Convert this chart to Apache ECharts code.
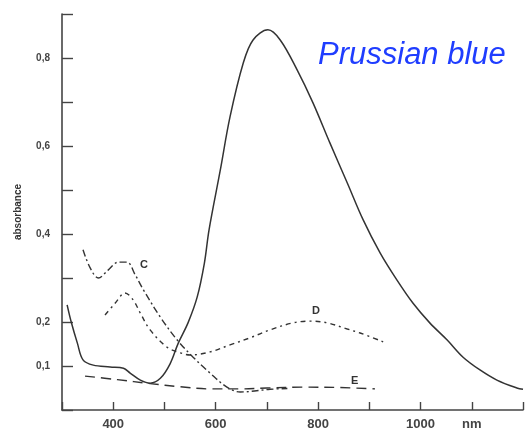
<!DOCTYPE html>
<html>
<head>
<meta charset="utf-8">
<script src="https://cdn.jsdelivr.net/npm/echarts@6/dist/echarts.min.js"></script>
<style>html,body{margin:0;padding:0;background:#fff;}#c{width:530px;height:434px;}</style>
</head>
<body>
<div id="c"></div>
<script>
// Prussian blue (main) curve
var pbX = [310, 318, 330, 341, 361, 394, 420, 433, 453, 472, 492, 511, 527, 546, 564, 578, 587, 609, 628, 654, 673, 702, 726, 759, 790, 823, 857, 888, 921, 954, 985, 1018, 1052, 1083, 1116, 1149, 1188, 1200];
var pbY = [0.239, 0.200, 0.152, 0.114, 0.102, 0.098, 0.095, 0.084, 0.068, 0.061, 0.072, 0.105, 0.152, 0.198, 0.257, 0.334, 0.409, 0.545, 0.666, 0.789, 0.841, 0.864, 0.841, 0.773, 0.698, 0.607, 0.516, 0.432, 0.357, 0.295, 0.243, 0.198, 0.159, 0.120, 0.091, 0.068, 0.050, 0.047];
// Curve C
var cX = [341, 355, 371, 390, 410, 427, 443, 459, 492, 525, 556, 589, 622, 648, 706, 740];
var cY = [0.364, 0.323, 0.300, 0.318, 0.336, 0.336, 0.307, 0.273, 0.211, 0.159, 0.120, 0.084, 0.052, 0.041, 0.047, 0.049];
// Curve D
var dX = [384, 404, 423, 439, 453, 472, 505, 531, 550, 589, 628, 667, 706, 751, 784, 818, 857, 882, 927];
var dY = [0.216, 0.243, 0.266, 0.250, 0.220, 0.182, 0.143, 0.130, 0.125, 0.132, 0.148, 0.164, 0.182, 0.198, 0.202, 0.198, 0.184, 0.175, 0.155];
// Curve E
var eX = [345, 408, 472, 530, 589, 650, 700, 771, 843, 911];
var eY = [0.077, 0.069, 0.060, 0.053, 0.048, 0.048, 0.050, 0.052, 0.051, 0.048];
// tick labels
var xTickLabels = [400, 600, 800, 1000];
var xUnitLabel = 'nm';
var yTickLabels = [0.1, 0.2, 0.4, 0.6, 0.8];
var yAxisTitle = 'absorbance';
var curveNames = ['Prussian blue', 'C', 'D', 'E'];

function pairs(xs, ys) { return xs.map(function (x, i) { return [x, ys[i]]; }); }

var chart = echarts.init(document.getElementById('c'));
var ink = '#333';
function lineSeries(name, xs, ys, type, w) {
  return {
    name: name, type: 'line', data: pairs(xs, ys), smooth: 0.35, symbol: 'none',
    lineStyle: { color: ink, width: w, type: type }, z: 3
  };
}
chart.setOption({
  animation: false,
  grid: { left: 62, right: 7, top: 14, bottom: 24 },
  xAxis: {
    type: 'value', min: 300, max: 1200, interval: 100,
    axisLine: { lineStyle: { color: '#444', width: 1.6 } },
    axisTick: { inside: true, length: 8, lineStyle: { color: '#444', width: 1.4 } },
    splitLine: { show: false },
    axisLabel: {
      margin: 8, color: '#444', fontSize: 13, fontWeight: 'bold', fontFamily: 'Liberation Sans',
      formatter: function (v) {
        if (xTickLabels.indexOf(v) >= 0) return String(v);
        if (v === 1100) return xUnitLabel;
        return '';
      },
      rich: {}
    }
  },
  yAxis: {
    type: 'value', min: 0, max: 0.9, interval: 0.1,
    name: yAxisTitle, nameLocation: 'middle', nameGap: 39, nameRotate: 90,
    nameTextStyle: { color: '#333', fontSize: 10, fontWeight: 'bold', fontFamily: 'Liberation Sans' },
    axisLine: { lineStyle: { color: '#444', width: 1.6 } },
    axisTick: { inside: true, length: 11, lineStyle: { color: '#444', width: 1.4 } },
    splitLine: { show: false },
    axisLabel: {
      margin: 12, color: '#444', fontSize: 10, fontWeight: 'bold', fontFamily: 'Liberation Sans',
      formatter: function (v) {
        var r = Math.round(v * 10) / 10;
        if (yTickLabels.indexOf(r) >= 0) return r.toFixed(1).replace('.', ',');
        return '';
      }
    }
  },
  series: [
    lineSeries(curveNames[0], pbX, pbY, 'solid', 1.5),
    lineSeries(curveNames[1], cX, cY, [7, 3, 2, 3], 1.4),
    lineSeries(curveNames[2], dX, dY, [5, 4, 2, 4], 1.4),
    lineSeries(curveNames[3], eX, eY, [10, 6], 1.4)
  ],
  graphic: [
    { type: 'text', left: 318, top: 40, style: { text: 'Prussian blue', fill: '#1f3dff', font: 'italic 31px "Liberation Sans"' } },
    { type: 'text', left: 140, top: 259, style: { text: 'C', fill: '#333', font: 'bold 11px "Liberation Sans"' } },
    { type: 'text', left: 312, top: 305, style: { text: 'D', fill: '#333', font: 'bold 11px "Liberation Sans"' } },
    { type: 'text', left: 351, top: 375, style: { text: 'E', fill: '#333', font: 'bold 11px "Liberation Sans"' } }
  ]
});
</script>
</body>
</html>
